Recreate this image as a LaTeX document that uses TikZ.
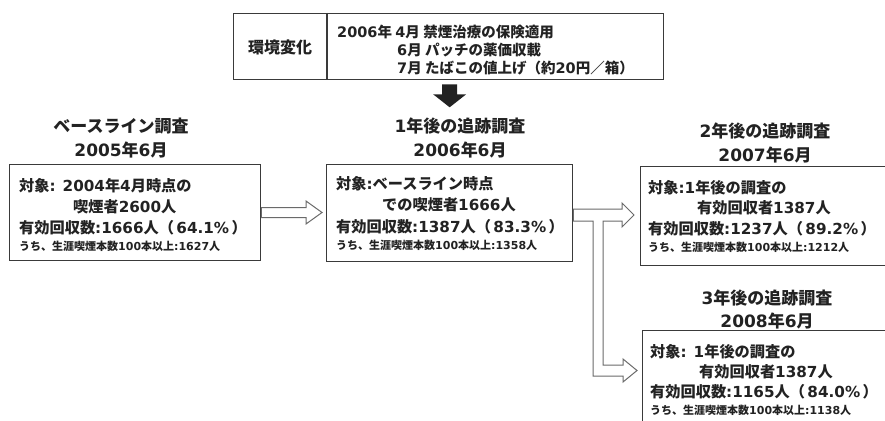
\documentclass[tikz,border=0pt]{standalone}
\usepackage{fontspec}
\setmainfont{Noto Sans CJK JP}
\newfontfamily\latinf{DejaVu Sans}
\newcommand\nm[1]{{\latinf #1}}
\newcommand\pct[1]{（\hspace{2.5pt}{\latinf #1}\hspace{2.5pt}）}
\usetikzlibrary{calc}
\definecolor{ink}{HTML}{222222}
\definecolor{frame}{HTML}{3A3A3A}
\definecolor{arrowline}{HTML}{6A6A6A}
\begin{document}
\begin{tikzpicture}[x=1pt,y=-1pt,
  box/.style={draw=frame, line width=1.3pt, anchor=north west, inner sep=0pt},
  txt/.style={anchor=west, inner sep=0pt, text=ink, font=\bfseries\fontsize{15.2}{15.2}\selectfont},
  toptxt/.style={anchor=west, inner sep=0pt, text=ink, font=\bfseries\fontsize{14.5}{14.5}\selectfont},
  small/.style={anchor=west, inner sep=0pt, text=ink, font=\bfseries\fontsize{11}{11}\selectfont},
  ttl/.style={inner sep=0pt, text=ink, font=\bfseries\fontsize{17}{17}\selectfont},
  hollow/.style={draw=arrowline, line width=1pt, fill=white, line join=miter}]
\useasboundingbox (0,0) rectangle (885,420);
\fill[white] (0,0) rectangle (885,420);

% top box: environment change
\node[box, minimum width=430pt, minimum height=66pt] (env) at (233,13) {};
\draw[frame, line width=1.3pt] ($(env.north west)+(94,0)$) coordinate (dv1) -- ($(env.south west)+(94,0)$) coordinate (dv2);
\node[toptxt, anchor=center, font=\bfseries\fontsize{16}{16}\selectfont] (envlab) at (280,47) {環境変化};
\node[toptxt] (e1) at (337,32) {\nm{2006}年 \nm{4}月 禁煙治療の保険適用};
\node[toptxt] (e2) at (397,50) {\nm{6}月 パッチの薬価収載};
\node[toptxt] (e3) at (397,68) {\nm{7}月 たばこの値上げ（約\nm{20}円／箱）};

% thick down arrow
\coordinate (da) at ($(env.south)+(1,4)$);
\fill[ink] ($(da)+(-7.5,0)$) -- ($(da)+(7.5,0)$) -- ($(da)+(7.5,10)$) -- ($(da)+(16.5,10)$)
  -- ($(da)+(0,23)$) -- ($(da)+(-16.5,10)$) -- ($(da)+(-7.5,10)$) -- cycle;

% titles
\node[ttl] (t1a) at (121,126) {ベースライン調査};
\node[ttl] (t1b) at (121,150) {\nm{2005}年\nm{6}月};
\node[ttl] (t2a) at (460,126) {\nm{1}年後の追跡調査};
\node[ttl] (t2b) at (460,150) {\nm{2006}年\nm{6}月};
\node[ttl] (t3a) at (765,131) {\nm{2}年後の追跡調査};
\node[ttl] (t3b) at (765,155) {\nm{2007}年\nm{6}月};
\node[ttl] (t4a) at (767,298) {\nm{3}年後の追跡調査};
\node[ttl] (t4b) at (767,321) {\nm{2008}年\nm{6}月};

% boxes
\node[box, minimum width=251pt, minimum height=96pt] (b1) at (9,164) {};
\node[box, minimum width=246pt, minimum height=97pt] (b2) at (326,164) {};
\node[box, minimum width=250pt, minimum height=99pt] (b3) at (640,166) {};
\node[box, minimum width=250pt, minimum height=110pt] (b4) at (642,330) {};

% box 1 text
\node[txt] (b1l1) at (19,186) {対象\nm{: 2004}年\nm{4}月時点の};
\node[txt] (b1l2) at (73,207) {喫煙者\nm{2600}人};
\node[txt] (b1l3) at (19,228) {有効回収数\nm{:1666}人\pct{64.1\%}};
\node[small] (b1l4) at (19,246) {うち、生涯喫煙本数\nm{100}本以上\nm{:1627}人};

% box 2 text
\node[txt] (b2l1) at (336,184) {対象\nm{:}ベースライン時点};
\node[txt] (b2l2) at (382,205) {での喫煙者\nm{1666}人};
\node[txt] (b2l3) at (336,227) {有効回収数\nm{:1387}人\pct{83.3\%}};
\node[small] (b2l4) at (336,245) {うち、生涯喫煙本数\nm{100}本以上\nm{:1358}人};

% box 3 text
\node[txt] (b3l1) at (648,188) {対象\nm{:1}年後の調査の};
\node[txt] (b3l2) at (697,208) {有効回収者\nm{1387}人};
\node[txt] (b3l3) at (648,229) {有効回収数\nm{:1237}人\pct{89.2\%}};
\node[small] (b3l4) at (648,247) {うち、生涯喫煙本数\nm{100}本以上\nm{:1212}人};

% box 4 text
\node[txt] (b4l1) at (650,352) {対象\nm{: 1}年後の調査の};
\node[txt] (b4l2) at (699,372) {有効回収者\nm{1387}人};
\node[txt] (b4l3) at (650,392) {有効回収数\nm{:1165}人\pct{84.0\%}};
\node[small] (b4l4) at (650,410) {うち、生涯喫煙本数\nm{100}本以上\nm{:1138}人};

% hollow arrow b1 -> b2
\draw[hollow] (b1.east |- 0,207.5) -- (306,207.5) -- (306,201) -- ($(b2.west |- 0,212.5)+(-4,0)$)
  -- (306,224) -- (306,217.5) -- (b1.east |- 0,217.5) -- cycle;

% hollow arrows b2 -> b3 and b2 -> b4 (branch)
\draw[hollow] (b2.east |- 0,209) -- (622,209) -- (622,203) -- ($(b3.west |- 0,215)+(-6,0)$)
  -- (622,227) -- (622,221) -- (603,221) -- (603,365) -- (623,365) -- (623,359)
  -- ($(b4.west |- 0,370.5)+(-5,0)$) -- (623,382) -- (623,376) -- (593,376) -- (593,221)
  -- (b2.east |- 0,221) -- cycle;
\end{tikzpicture}
\end{document}
